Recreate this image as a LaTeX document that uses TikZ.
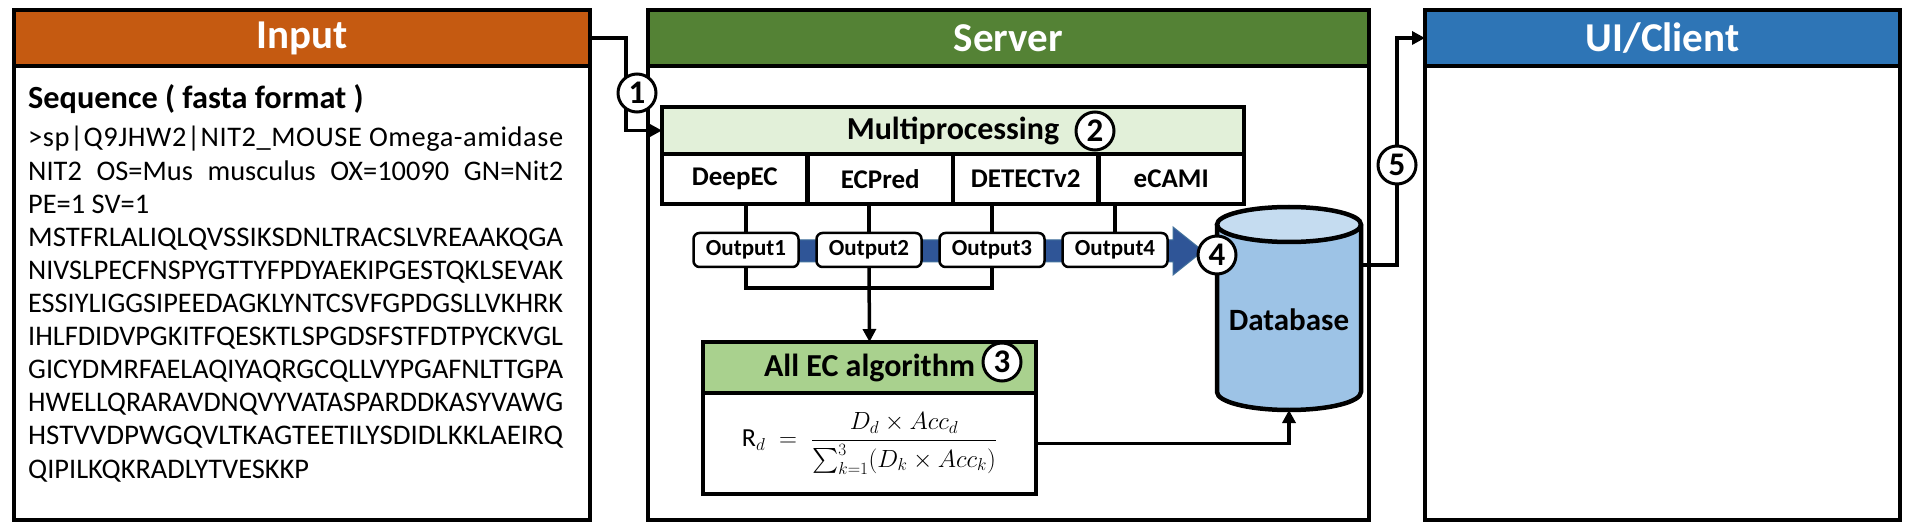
\documentclass[tikz,border=0pt]{standalone}
\usepackage{fontspec}
\usepackage{amsmath}
\usepackage{graphicx}
\setmainfont{Carlito}
\usetikzlibrary{arrows.meta}
\definecolor{inorange}{RGB}{197,90,17}
\definecolor{srvgreen}{RGB}{84,130,53}
\definecolor{uiblue}{RGB}{46,117,182}
\definecolor{mpgreen}{RGB}{226,240,217}
\definecolor{algreen}{RGB}{169,209,142}
\definecolor{dbblue}{RGB}{157,195,230}
\definecolor{dbtop}{RGB}{197,220,240}
\definecolor{bandblue}{RGB}{47,85,151}
\definecolor{bandedge}{RGB}{65,113,156}
\newcommand\fitline[1]{\resizebox{535pt}{\height}{#1}}
\newcommand\justline[1]{\makebox[535pt][s]{#1}}
\begin{document}
\begin{tikzpicture}[x=1pt,y=-1pt,
  panel/.style={draw,line width=4.5pt,fill=white,inner sep=0pt,outer sep=0pt},
  header/.style={draw,line width=4.5pt,inner sep=0pt,outer sep=0pt,text=white,font=\fontsize{41}{49}\selectfont\bfseries},
  seqtitle/.style={inner sep=0pt,anchor=base west,font=\fontsize{32.3}{38}\selectfont\bfseries},
  seqline/.style={inner sep=0pt,anchor=base west,font=\fontsize{28.4}{33}\selectfont},
  boxhead/.style={draw,line width=4.5pt,inner sep=0pt,outer sep=0pt,font=\fontsize{32}{38}\selectfont\bfseries},
  cell/.style={draw,line width=4.5pt,fill=white,inner sep=0pt,outer sep=0pt,minimum width=145.5pt,minimum height=50pt,font=\fontsize{27}{32}\selectfont\bfseries},
  outnode/.style={draw,line width=2.5pt,fill=white,rounded corners=6pt,minimum width=105pt,minimum height=34pt,inner sep=0pt,outer sep=0pt,font=\fontsize{23}{27}\selectfont\bfseries},
  numcirc/.style={circle,draw,line width=3pt,fill=white,minimum size=38pt,inner sep=0pt,font=\fontsize{33}{33}\selectfont\bfseries},
  conn/.style={line width=3.5pt},
  arr/.style={line width=3.5pt,-{Triangle[length=13pt,width=13pt]}},
  dbtextstyle/.style={inner sep=0pt,font=\fontsize{31}{36}\selectfont\bfseries}
]
\fill[white] (0,0) rectangle (1916,529);
\useasboundingbox (0,0) rectangle (1916,529);

% ---------- panels ----------
\node[panel,minimum width=576pt,minimum height=454pt] (inbody) at (302,293) {};
\node[header,fill=inorange,minimum width=576pt,minimum height=56pt] (inhead) at (302,38) {Input};
\node[panel,minimum width=721pt,minimum height=454pt] (srvbody) at (1008.5,293) {};
\node[header,fill=srvgreen,minimum width=721pt,minimum height=56pt] (srvhead) at (1008.5,38) {Server};
\node[panel,minimum width=475pt,minimum height=454pt] (uibody) at (1662.5,293) {};
\node[header,fill=uiblue,minimum width=475pt,minimum height=56pt] (uihead) at (1662.5,38) {UI/Client};

% ---------- input text ----------
\node[seqtitle] (seqt) at (28,109) {Sequence ( fasta format )};
\node[seqline] (s1) at (28,147) {\addfontfeatures{LetterSpace=2}\justline{>sp|Q9JHW2|NIT2\_MOUSE Omega-amidase}};
\node[seqline] (s2) at (28,180.1) {\justline{NIT2 OS=Mus musculus OX=10090 GN=Nit2}};
\node[seqline] (s3) at (28,213.2) {PE=1 SV=1};
\node[seqline] (s4) at (28,246.3) {\fitline{MSTFRLALIQLQVSSIKSDNLTRACSLVREAAKQGA}};
\node[seqline] (s5) at (28,279.4) {\fitline{NIVSLPECFNSPYGTTYFPDYAEKIPGESTQKLSEVAK}};
\node[seqline] (s6) at (28,312.5) {\fitline{ESSIYLIGGSIPEEDAGKLYNTCSVFGPDGSLLVKHRK}};
\node[seqline] (s7) at (28,345.6) {\fitline{IHLFDIDVPGKITFQESKTLSPGDSFSTFDTPYCKVGL}};
\node[seqline] (s8) at (28,378.7) {\fitline{GICYDMRFAELAQIYAQRGCQLLVYPGAFNLTTGPA}};
\node[seqline] (s9) at (28,411.8) {\fitline{HWELLQRARAVDNQVYVATASPARDDKASYVAWG}};
\node[seqline] (s10) at (28,444.9) {\fitline{HSTVVDPWGQVLTKAGTEETILYSDIDLKKLAEIRQ}};
\node[seqline] (s11) at (28,478) {QIPILKQKRADLYTVESKKP};

% ---------- multiprocessing ----------
\node[boxhead,fill=mpgreen,minimum width=582pt,minimum height=47pt] (mp) at (953,130.5) {Multiprocessing};
\node[cell] (deepec) at (734.75,179) {DeepEC};
\node[cell] (ecpred) at (880.25,179) {ECPred};
\node[cell] (detect) at (1025.75,179) {DETECTv2};
\node[cell] (ecami) at (1171.25,179) {eCAMI};

% ---------- blue band arrow ----------
\path[fill=bandblue,draw=bandedge,line width=1pt] (694,240) -- (1173,240) -- (1173,227) -- (1203,251) -- (1173,275) -- (1173,262) -- (694,262) -- cycle;

% ---------- outputs ----------
\node[outnode] (o1) at (746,250) {Output1};
\node[outnode] (o2) at (869,250) {Output2};
\node[outnode] (o3) at (992,250) {Output3};
\node[outnode] (o4) at (1115,250) {Output4};
\draw[conn] (o1.north) -- (o1.north |- deepec.south);
\draw[conn] (o2.north) -- (o2.north |- ecpred.south);
\draw[conn] (o3.north) -- (o3.north |- detect.south);
\draw[conn] (o4.north) -- (o4.north |- ecami.south);

% ---------- all EC algorithm ----------
\node[boxhead,fill=white,minimum width=333pt,minimum height=101pt,font=\fontsize{26}{30}\selectfont] (formula) at (869.5,443.5)
  {$\mathrm{R}_d \;=\; \dfrac{D_d\times Acc_d}{\sum_{k=1}^{3}(D_k\times Acc_k)}$};
\node[boxhead,fill=algreen,minimum width=333pt,minimum height=51pt] (alghead) at (869.5,367.5) {All EC algorithm};

\coordinate (jn) at (869,288);
\draw[conn] (o1.south) |- (jn) -| (o3.south);
\draw[arr] (o2.south) -- (alghead.north);

% ---------- database ----------
\path[draw,line width=4.5pt,fill=dbblue] (1217,225) -- (1217,392) arc[start angle=180,end angle=0,x radius=72,y radius=18] -- (1361,225);
\draw[line width=4.5pt,fill=dbtop] (1289,224.5) ellipse [x radius=72,y radius=17.5];
\node[dbtextstyle] (db) at (1289,320) {Database};
\coordinate (dbbot) at (1289,410);
\coordinate (dbeast) at (1361,265);

\draw[arr] (formula.east) -| (dbbot);

% ---------- outer connectors ----------
\draw[arr] (inhead.east) -- (626,38) |- (mp.west);
\draw[arr] (dbeast) -- (1397,265) |- (uihead.west);

% ---------- step numbers ----------
\node[numcirc] (n1) at (637,93) {1};
\node[numcirc] (n2) at (1095,131) {2};
\node[numcirc] (n3) at (1002,362) {3};
\node[numcirc] (n4) at (1217,255) {4};
\node[numcirc] (n5) at (1397,165) {5};
\end{tikzpicture}
\end{document}
